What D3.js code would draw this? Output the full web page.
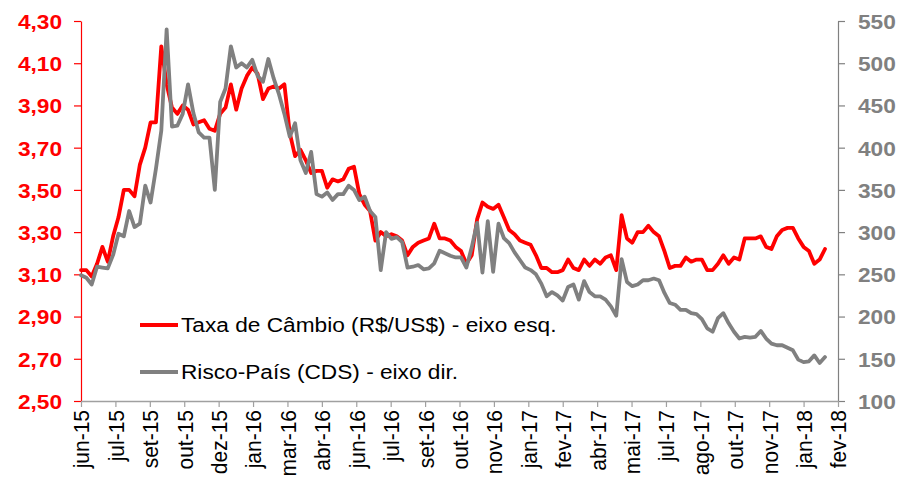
<!DOCTYPE html>
<html>
<head>
<meta charset="utf-8">
<script src="https://cdn.jsdelivr.net/npm/d3@7"></script>
<style>
  html, body { margin: 0; padding: 0; background: #fff; }
  svg { display: block; font-family: "Liberation Sans", Arial, sans-serif; }
</style>
</head>
<body>
<svg id="chart" width="898" height="481"></svg>
<script>
// ---- data (weekly samples starting at axis start 2015-06-09) ----
const axisStart = "2015-06-09";
const tickStepDays = 45;
const tickLabels = ["jun-15","jul-15","set-15","out-15","dez-15","jan-16","mar-16","abr-16","jun-16","jul-16","set-16","out-16","nov-16","jan-17","fev-17","abr-17","mai-17","jul-17","ago-17","out-17","nov-17","jan-18","fev-18"];
const leftTicks = [2.5, 2.7, 2.9, 3.1, 3.3, 3.5, 3.7, 3.9, 4.1, 4.3];
const rightTicks = [100, 150, 200, 250, 300, 350, 400, 450, 500, 550];
const seriesNames = ["Taxa de Câmbio (R$/US$) - eixo esq.", "Risco-País (CDS) - eixo dir."];

const cambio = [
 3.12,3.12,3.09,3.15,3.23,3.16,3.28,3.37,3.50,3.50,
 3.47,3.62,3.70,3.82,3.82,4.18,4.00,3.89,3.86,3.90,
 3.88,3.81,3.82,3.83,3.79,3.78,3.86,3.89,4.00,3.88,
 3.98,4.04,4.08,4.05,3.93,3.98,3.99,3.98,4.00,3.77,
 3.66,3.69,3.64,3.58,3.59,3.59,3.51,3.55,3.54,3.55,
 3.60,3.61,3.48,3.43,3.40,3.26,3.30,3.28,3.29,3.28,
 3.26,3.19,3.23,3.25,3.26,3.27,3.34,3.27,3.27,3.26,
 3.23,3.21,3.15,3.19,3.36,3.44,3.42,3.41,3.43,3.37,
 3.31,3.29,3.26,3.25,3.24,3.19,3.13,3.13,3.11,3.11,
 3.12,3.17,3.13,3.12,3.17,3.14,3.17,3.15,3.18,3.19,
 3.12,3.38,3.27,3.25,3.30,3.30,3.33,3.30,3.28,3.21,
 3.13,3.14,3.14,3.18,3.16,3.17,3.17,3.12,3.12,3.15,
 3.19,3.15,3.18,3.17,3.27,3.27,3.27,3.28,3.23,3.22,
 3.28,3.31,3.32,3.32,3.27,3.23,3.21,3.15,3.17,3.22
];
const cds = [
 249,246,238,259,258,257,273,298,295,325,
 306,310,355,335,375,420,540,425,426,440,
 475,441,418,412,412,350,454,470,520,495,
 500,495,504,485,478,505,482,463,440,413,
 429,385,370,395,345,342,347,338,345,345,
 355,350,338,342,325,318,255,300,292,294,
 288,258,259,261,256,257,263,278,275,272,
 270,270,258,282,311,252,313,253,310,293,
 287,276,267,258,255,250,239,224,229,225,
 219,235,238,220,242,229,224,224,220,212,
 201,268,241,236,238,243,243,245,243,228,
 216,214,208,208,204,203,197,186,182,198,
 204,192,182,174,176,175,176,183,174,168,
 166,166,163,160,149,146,147,154,145,152
];

// ---- layout ----
const svg = d3.select("#chart");
const plot = { left: 81, right: 838, top: 21, bottom: 401 };
const RED = "#ff0000", GRAY = "#808080", AXIS_GRAY = "#a0a0a0";
const FS = 21, SX = 1.08;

const start = d3.utcParse("%Y-%m-%d")(axisStart);
const tickDates = d3.range(tickLabels.length).map(i => d3.utcDay.offset(start, tickStepDays * i));
const dates = d3.range(cambio.length).map(i => d3.utcDay.offset(start, 7 * i));

const x = d3.scaleUtc().domain([tickDates[0], tickDates[tickDates.length - 1]]).range([plot.left, plot.right]);
const yL = d3.scaleLinear().domain([2.5, 4.3]).range([plot.bottom, plot.top]);
const yR = d3.scaleLinear().domain([100, 550]).range([plot.bottom, plot.top]);

const fmtL = d => d3.format(".2f")(d).replace(".", ",");

// left axis
const gL = svg.append("g").attr("transform", `translate(${plot.left},0)`)
  .call(d3.axisLeft(yL).tickValues(leftTicks).tickSize(7).tickSizeOuter(0).tickFormat(fmtL));
gL.select(".domain").attr("stroke", RED).attr("stroke-width", 1.2);
gL.selectAll(".tick line").attr("stroke", RED).attr("stroke-width", 1.2);
gL.selectAll(".tick text").attr("fill", RED).attr("font-size", FS).attr("font-weight", "bold")
  .attr("font-family", "Liberation Sans, Arial, sans-serif")
  .attr("x", null).attr("dy", "0.35em")
  .attr("transform", `translate(-19,0) scale(${SX},1)`);

// right axis
const gR = svg.append("g").attr("transform", `translate(${plot.right},0)`)
  .call(d3.axisRight(yR).tickValues(rightTicks).tickSize(7).tickSizeOuter(0));
gR.select(".domain").attr("stroke", GRAY).attr("stroke-width", 1.2);
gR.selectAll(".tick line").attr("stroke", GRAY).attr("stroke-width", 1.2);
gR.selectAll(".tick text").attr("fill", GRAY).attr("font-size", FS).attr("font-weight", "bold")
  .attr("font-family", "Liberation Sans, Arial, sans-serif")
  .attr("x", null).attr("dy", "0.35em")
  .attr("transform", `translate(20,0) scale(${SX},1)`);

// bottom axis
const gB = svg.append("g").attr("transform", `translate(0,${plot.bottom})`)
  .call(d3.axisBottom(x).tickValues(tickDates).tickSize(6).tickSizeOuter(0)
    .tickFormat((d, i) => tickLabels[i]));
gB.select(".domain").attr("stroke", AXIS_GRAY).attr("stroke-width", 1.5);
gB.selectAll(".tick line").attr("stroke", AXIS_GRAY).attr("stroke-width", 1.2);
gB.selectAll(".tick text").attr("fill", "#000").attr("font-size", FS)
  .attr("font-family", "Liberation Sans, Arial, sans-serif")
  .attr("y", null).attr("dy", "0.35em")
  .attr("text-anchor", "end")
  .attr("transform", `translate(0,9) scale(${SX},1) rotate(-90)`);

// lines
const lineL = d3.line().x((d, i) => x(dates[i])).y(d => yL(d)).curve(d3.curveLinear);
const lineR = d3.line().x((d, i) => x(dates[i])).y(d => yR(d)).curve(d3.curveLinear);

svg.append("path").datum(cambio).attr("d", lineL)
  .attr("fill", "none").attr("stroke", RED).attr("stroke-width", 3.8)
  .attr("stroke-linejoin", "round").attr("stroke-linecap", "round");
svg.append("path").datum(cds).attr("d", lineR)
  .attr("fill", "none").attr("stroke", GRAY).attr("stroke-width", 3.8)
  .attr("stroke-linejoin", "round").attr("stroke-linecap", "round");

// legend
const legend = svg.append("g");
const legendItems = [
  { name: seriesNames[0], color: RED, y: 325 },
  { name: seriesNames[1], color: GRAY, y: 372 }
];
legendItems.forEach(it => {
  legend.append("line").attr("x1", 140).attr("x2", 178).attr("y1", it.y).attr("y2", it.y)
    .attr("stroke", it.color).attr("stroke-width", 4);
  legend.append("text").text(it.name)
    .attr("transform", `translate(181,${it.y}) scale(${SX},1)`)
    .attr("dy", "0.35em").attr("font-size", FS).attr("fill", "#000");
});
</script>
</body>
</html>
